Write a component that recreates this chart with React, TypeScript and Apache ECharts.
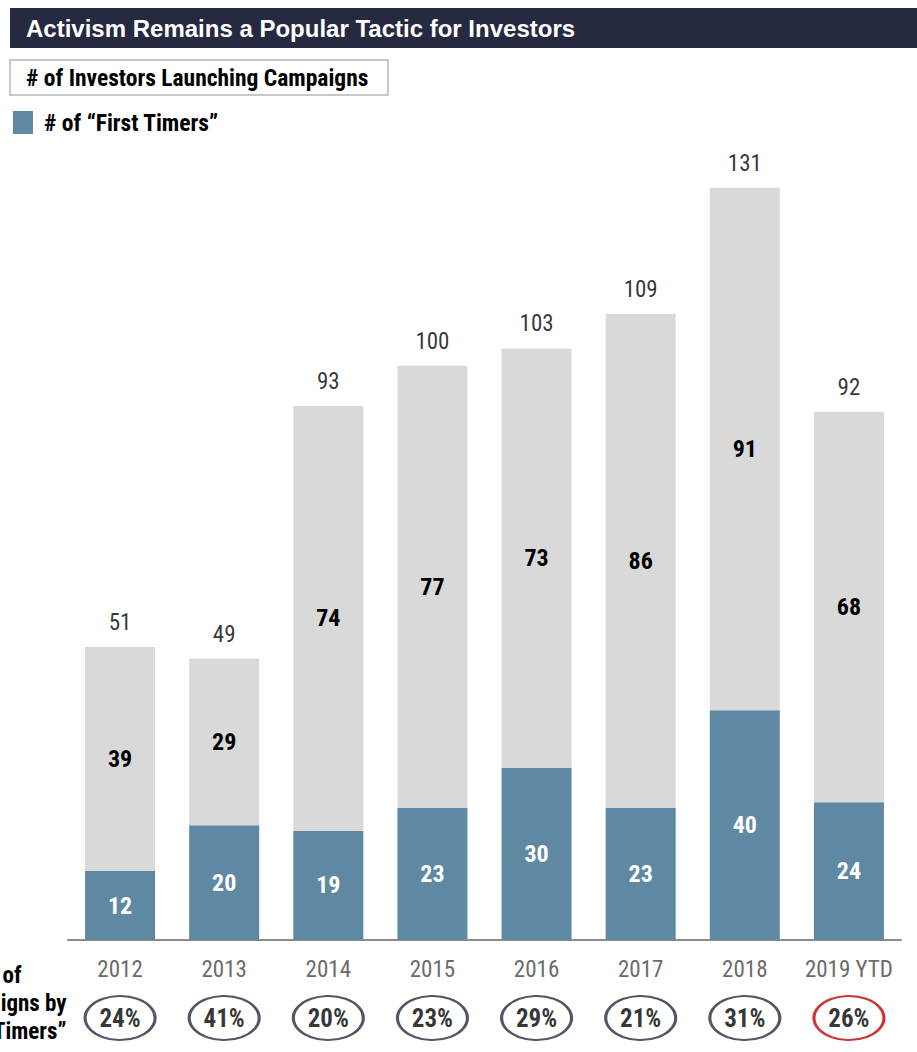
import React, { useEffect, useRef } from "react";
import * as echarts from "echarts";

const categories = ["2012", "2013", "2014", "2015", "2016", "2017", "2018", "2019 YTD"];
const firstTimers = [12, 20, 19, 23, 30, 23, 40, 24];
const others = [39, 29, 74, 77, 73, 86, 91, 68];
const totals = [51, 49, 93, 100, 103, 109, 131, 92];
const pctFirstTimers = ["24%", "41%", "20%", "23%", "29%", "21%", "31%", "26%"];
const yTicksMax = 140;

const NARROW = "'Liberation Sans Narrow', 'Arial Narrow', 'Roboto Condensed', 'Liberation Sans', Arial, sans-serif";
const ARIAL = "'Liberation Sans', Arial, sans-serif";
const NAVY = "#262a40";
const BLUE = "#5f88a2";
const GRAY = "#d9d9d9";

export default function App() {
  const ref = useRef<HTMLDivElement>(null);
  useEffect(() => {
    if (!ref.current) return;
    const chart = echarts.init(ref.current, null, { renderer: "svg" });
    chart.setOption({
      animation: false,
      backgroundColor: "#ffffff",
      grid: [
        { left: 68, right: 16, top: 136, bottom: 112 },
        { left: 68, right: 16, top: 996, height: 44 },
      ],
      xAxis: [
        {
          type: "category",
          data: categories,
          gridIndex: 0,
          axisLine: { lineStyle: { color: "#8c8c8c", width: 2 } },
          axisTick: { length: 7, lineStyle: { color: "#8c8c8c", width: 2 } },
          axisLabel: { interval: 0, color: "#6b6b6b", fontSize: 23, fontFamily: NARROW, margin: 18 },
        },
        { type: "category", data: categories, gridIndex: 1, show: false },
      ],
      yAxis: [
        { type: "value", min: 0, max: yTicksMax, gridIndex: 0, show: false, splitLine: { show: false } },
        { type: "value", min: 0, max: 1, gridIndex: 1, show: false, splitLine: { show: false } },
      ],
      series: [
        {
          type: "bar",
          stack: "a",
          data: firstTimers,
          barWidth: 70,
          itemStyle: { color: BLUE },
          label: { show: true, position: "inside", color: "#ffffff", fontWeight: "bold", fontSize: 24, fontFamily: NARROW },
        },
        {
          type: "bar",
          stack: "a",
          data: others,
          barWidth: 70,
          itemStyle: { color: GRAY },
          label: { show: true, position: "inside", color: "#000000", fontWeight: "bold", fontSize: 24, fontFamily: NARROW },
        },
        {
          type: "scatter",
          data: totals,
          symbolSize: 0,
          label: { show: true, position: "top", distance: 13, color: "#000000", fontSize: 23, fontFamily: NARROW },
        },
        {
          type: "scatter",
          xAxisIndex: 1,
          yAxisIndex: 1,
          symbol: "circle",
          symbolSize: [70, 44],
          data: pctFirstTimers.map((p, i) => ({
            value: 0.5,
            name: p,
            itemStyle: {
              color: "#ffffff",
              borderColor: i === pctFirstTimers.length - 1 ? "#c00000" : NAVY,
              borderWidth: 2.5,
            },
          })),
          label: {
            show: true,
            position: "inside",
            formatter: (p: any) => pctFirstTimers[p.dataIndex],
            color: "#000000",
            fontWeight: "bold",
            fontSize: 25,
            fontFamily: NARROW,
          },
        },
      ],
      graphic: [
        { type: "rect", shape: { x: 10, y: 8, width: 907, height: 40 }, style: { fill: NAVY } },
        {
          type: "text",
          x: 26,
          y: 28,
          style: {
            text: "Activism Remains a Popular Tactic for Investors",
            fill: "#ffffff",
            font: `bold 24px ${ARIAL}`,
            textVerticalAlign: "middle",
          },
        },
        {
          type: "rect",
          shape: { x: 10, y: 60, width: 378, height: 35 },
          style: { fill: "#ffffff", stroke: "#c8c8c8", lineWidth: 2 },
        },
        {
          type: "text",
          x: 26,
          y: 78,
          style: {
            text: "# of Investors Launching Campaigns",
            fill: "#000000",
            font: `bold 23.5px ${NARROW}`,
            textVerticalAlign: "middle",
          },
        },
        { type: "rect", shape: { x: 13, y: 111, width: 20, height: 23 }, style: { fill: BLUE } },
        {
          type: "text",
          x: 44,
          y: 123,
          style: {
            text: "# of \u201CFirst Timers\u201D",
            fill: "#000000",
            font: `bold 23.5px ${NARROW}`,
            textVerticalAlign: "middle",
          },
        },
        {
          type: "text",
          x: 2,
          y: 961,
          style: {
            text: "% of\nCampaigns by\n\u201CFirst Timers\u201D",
            fill: "#000000",
            font: `bold 23px ${NARROW}`,
            textAlign: "center",
            lineHeight: 28,
          },
        },
      ],
    });
    return () => chart.dispose();
  }, []);
  return (
    <div
      ref={ref}
      style={{ position: "absolute", left: 0, top: 0, width: 917, height: 1052 }}
    />
  );
}
